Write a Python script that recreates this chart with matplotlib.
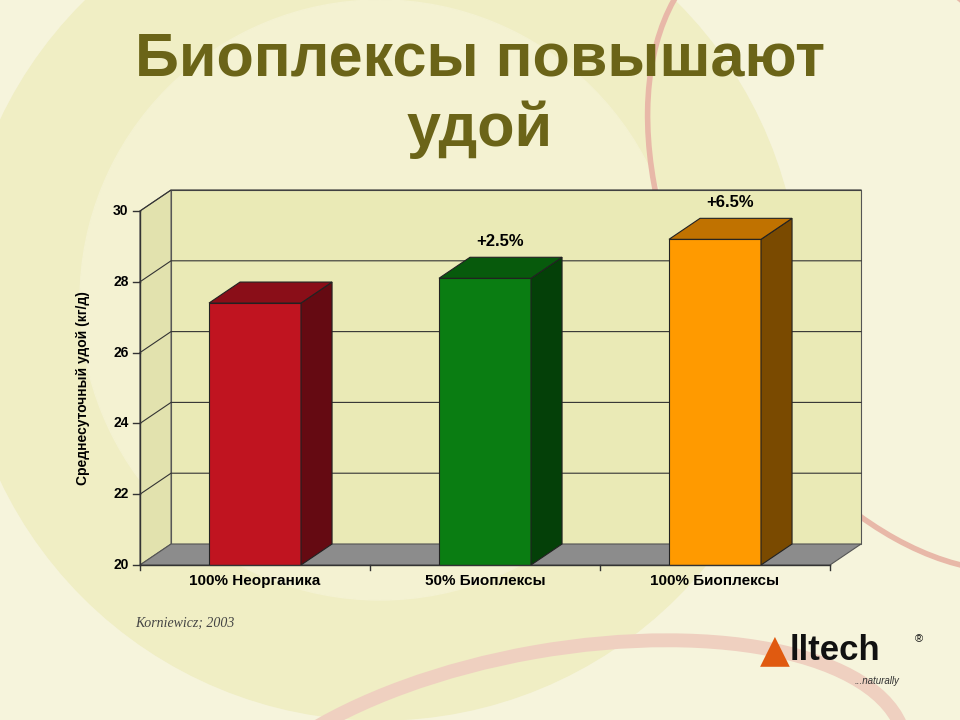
import matplotlib
matplotlib.use("Agg")
import matplotlib.pyplot as plt
from matplotlib.patches import Polygon, Circle, Ellipse

categories = ["100% Неорганика", "50% Биоплексы", "100% Биоплексы"]
values = [27.4, 28.1, 29.2]
labels = ["", "+2.5%", "+6.5%"]
front = ["#c01420", "#0a7d12", "#ff9a00"]
side = ["#650a12", "#044008", "#7a4a00"]
top = ["#8a0e18", "#075a0c", "#c07200"]
yticks = [20, 22, 24, 26, 28, 30]

plt.rcParams["font.family"] = ["Liberation Sans", "DejaVu Sans"]

fig = plt.figure(figsize=(9.6, 7.2), dpi=100)
fig.patch.set_facecolor("#f6f4dc")

# background decoration
bg = fig.add_axes([0, 0, 1, 1])
bg.set_xlim(0, 960); bg.set_ylim(720, 0); bg.axis("off")
bg.add_patch(Circle((380, 300), 420, color="#f0eec4", zorder=0))
bg.add_patch(Circle((380, 300), 300, color="#f4f2d2", zorder=0))
bg.add_patch(Ellipse((900, 250), 420, 700, angle=-30, fill=False, ec="#e8b8a8", lw=4, zorder=0))
bg.add_patch(Ellipse((560, 800), 700, 300, angle=-10, fill=False, ec="#efd0c0", lw=10, zorder=0))
bg.text(480, 60, "Биоплексы повышают", ha="center", va="center", fontsize=44,
        fontweight="bold", color="#6b6418")
bg.text(480, 130, "удой", ha="center", va="center", fontsize=44,
        fontweight="bold", color="#6b6418")
bg.text(135, 627, "Korniewicz; 2003", fontsize=10, style="italic",
        family="Liberation Serif", color="#444444")
bg.text(790, 651, "lltech", fontsize=25, fontweight="bold", color="#111111", ha="left", va="center")
bg.text(760, 650, "▲", fontsize=28, color="#e05a10", ha="left", va="center", family="DejaVu Sans")
bg.text(915, 642, "®", fontsize=8, color="#111111")
bg.text(855, 684, "...naturally", fontsize=7, style="italic", color="#333333")

ax = fig.add_axes([140/960, 155/720, 690/960, 354/720])
ax.set_xlim(0, 3)
ax.set_ylim(20, 30)
ax.axis("off")
dx, dy = 0.135, 0.593

# walls
ax.add_patch(Polygon([(dx, 20 + dy), (3 + dx, 20 + dy), (3 + dx, 30 + dy), (dx, 30 + dy)],
                     fc="#eaeab6", ec="#555555", lw=0.8, clip_on=False, zorder=1))
ax.add_patch(Polygon([(0, 20), (dx, 20 + dy), (dx, 30 + dy), (0, 30)],
                     fc="#e2e2ae", ec="#555555", lw=0.8, clip_on=False, zorder=1))
ax.add_patch(Polygon([(0, 20), (3, 20), (3 + dx, 20 + dy), (dx, 20 + dy)],
                     fc="#8c8c8c", ec="#555555", lw=0.8, clip_on=False, zorder=1))
for t in yticks[1:]:
    ax.plot([0, dx, 3 + dx], [t, t + dy, t + dy], color="#333333", lw=0.8, clip_on=False, zorder=2)
ax.plot([0, 0], [20, 30], color="#333333", lw=1, clip_on=False, zorder=5)
ax.plot([0, 3], [20, 20], color="#333333", lw=1, clip_on=False, zorder=5)
for t in yticks:
    ax.plot([-0.03, 0], [t, t], color="#333333", lw=1, clip_on=False)
    ax.text(-0.05, t, str(t), ha="right", va="center", fontsize=10, fontweight="bold")
for i in range(4):
    ax.plot([i, i], [20, 19.85], color="#333333", lw=1, clip_on=False)
ax.text(-0.25, 25, "Среднесуточный удой (кг/д)", rotation=90, ha="center", va="center",
        fontsize=10, fontweight="bold")

w = 0.4
for i, (v, c) in enumerate(zip(values, categories)):
    x0 = i + 0.5 - w / 2
    x1 = x0 + w
    ax.add_patch(Polygon([(x0, 20), (x1, 20), (x1, v), (x0, v)], fc=front[i], ec="#222222", lw=0.8, zorder=3))
    ax.add_patch(Polygon([(x1, 20), (x1 + dx, 20 + dy), (x1 + dx, v + dy), (x1, v)],
                         fc=side[i], ec="#222222", lw=0.8, zorder=3, clip_on=False))
    ax.add_patch(Polygon([(x0, v), (x1, v), (x1 + dx, v + dy), (x0 + dx, v + dy)],
                         fc=top[i], ec="#222222", lw=0.8, zorder=3, clip_on=False))
    ax.text(i + 0.5, 19.55, c, ha="center", va="center", fontsize=11, fontweight="bold")
    if labels[i]:
        ax.text(i + 0.5 + dx / 2, v + dy + 0.45, labels[i], ha="center", va="center",
                fontsize=12, fontweight="bold", zorder=6)

fig.savefig("out.png", dpi=100, facecolor=fig.get_facecolor())
